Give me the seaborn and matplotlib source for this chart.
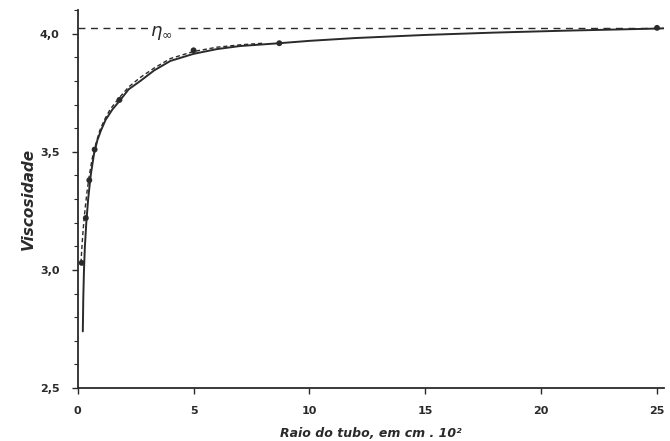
import numpy as np
import pandas as pd
import matplotlib
matplotlib.use("Agg")
import matplotlib.pyplot as plt
from matplotlib.ticker import MultipleLocator
import seaborn as sns

# solid curve
solid_x = [0.22, 0.24, 0.27, 0.31, 0.37, 0.45, 0.56, 0.70, 0.85, 1.0, 1.2, 1.5, 1.8, 2.2,
           2.7, 3.3, 4.0, 5.0, 6.0, 7.0, 8.7, 10.0, 12.0, 15.0, 18.0, 21.0, 25.0, 25.3]
solid_y = [2.74, 2.88, 3.00, 3.10, 3.20, 3.30, 3.40, 3.49, 3.55, 3.59, 3.635, 3.68, 3.715, 3.765,
           3.80, 3.845, 3.885, 3.915, 3.935, 3.948, 3.96, 3.97, 3.982, 3.995, 4.005, 4.013, 4.022, 4.023]

# dashed curve
dash_x = [0.14, 0.17, 0.21, 0.26, 0.32, 0.40, 0.50, 0.62, 0.77, 0.95, 1.15, 1.4, 1.8, 2.2,
          2.7, 3.3, 4.0, 5.0, 6.0, 7.0, 8.0]
dash_y = [3.03, 3.08, 3.14, 3.20, 3.26, 3.33, 3.40, 3.47, 3.53, 3.59, 3.635, 3.68, 3.73, 3.775,
          3.815, 3.855, 3.895, 3.925, 3.943, 3.953, 3.96]

# measured points
pts_x = [0.17, 0.35, 0.50, 0.73, 1.8, 5.0, 8.7, 25.0]
pts_y = [3.03, 3.22, 3.38, 3.51, 3.72, 3.93, 3.96, 4.025]

eta_inf = 4.025

x_ticks = [0, 5, 10, 15, 20, 25]
x_labels = ["0", "5", "10", "15", "20", "25"]
y_ticks = [2.5, 3.0, 3.5, 4.0]
y_labels = ["2,5", "3,0", "3,5", "4,0"]

sns.set_style("ticks")
plt.rcParams["font.family"] = ["DejaVu Sans"]
ink = "#2a2a2a"

fig = plt.figure(figsize=(6.7, 4.41), dpi=100)
ax = fig.add_axes([0.116, 0.12, 0.875, 0.857])

solid = pd.DataFrame({"x": solid_x, "y": solid_y})
dashed = pd.DataFrame({"x": dash_x, "y": dash_y})
pts = pd.DataFrame({"x": pts_x, "y": pts_y})

sns.lineplot(data=solid, x="x", y="y", ax=ax, color=ink, lw=1.4, sort=False)
sns.lineplot(data=dashed, x="x", y="y", ax=ax, color=ink, lw=1.0, ls=(0, (3, 2)), sort=False)
sns.scatterplot(data=pts, x="x", y="y", ax=ax, color=ink, s=18, edgecolor="none", zorder=5)

ax.axhline(eta_inf, color=ink, lw=1.0, ls=(0, (5, 4)))
ax.text(3.6, eta_inf - 0.02, r"$\eta_\infty$", fontsize=13, color=ink,
        ha="center", va="center", bbox=dict(facecolor="white", edgecolor="none", pad=1))

ax.set_xlim(0, 25.3)
ax.set_ylim(2.5, 4.1)
ax.set_xticks(x_ticks)
ax.set_xticklabels(x_labels)
ax.set_yticks(y_ticks)
ax.set_yticklabels(y_labels)
ax.yaxis.set_minor_locator(MultipleLocator(0.1))
ax.tick_params(axis="both", which="major", labelsize=8, colors=ink, length=4, width=1)
ax.tick_params(axis="x", which="major", pad=9)
ax.tick_params(axis="y", which="major", pad=9)
ax.tick_params(axis="y", which="minor", length=3, width=0.8, colors=ink)
for lab in ax.get_xticklabels() + ax.get_yticklabels():
    lab.set_fontweight("bold")

sns.despine(ax=ax)
for s in ["left", "bottom"]:
    ax.spines[s].set_linewidth(1.3)
    ax.spines[s].set_color(ink)

ax.set_xlabel("Raio do tubo, em cm . 10²", fontsize=9, fontweight="bold", style="italic",
              color=ink, labelpad=8)
ax.set_ylabel("Viscosidade", fontsize=11, fontweight="bold", style="italic",
              color=ink, labelpad=3)

plt.savefig("out.png", dpi=100)
